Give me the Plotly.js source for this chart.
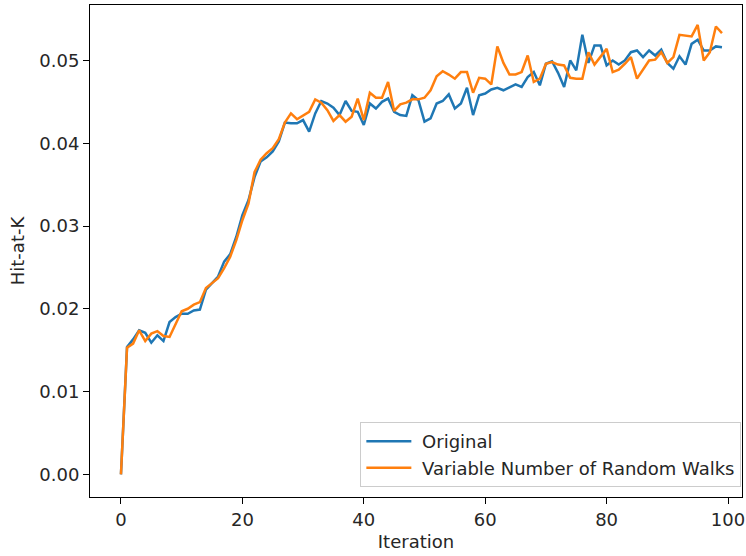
<!DOCTYPE html>
<html>
<head>
<meta charset="utf-8">
<script src="https://cdn.plot.ly/plotly-3.0.1.min.js"></script>
<style>html,body{margin:0;padding:0;background:#fff;}#chart{width:746px;height:556px;}</style>
</head>
<body>
<div id="chart"></div>
<script>
const iterations = Array.from({length: 100}, (_, i) => i);
const original = [
  0.0000, 0.0154, 0.0163, 0.0174, 0.0171, 0.0159, 0.0168, 0.0161, 0.0184, 0.0190,
  0.0194, 0.0194, 0.0198, 0.0199, 0.0223, 0.0231, 0.0239, 0.0257, 0.0266, 0.0287,
  0.0313, 0.0331, 0.0359, 0.0378, 0.0383, 0.0390, 0.0402, 0.0425, 0.0424, 0.0424,
  0.0428, 0.0414, 0.0436, 0.0451, 0.0448, 0.0443, 0.0434, 0.0451, 0.0439, 0.0438,
  0.0422, 0.0448, 0.0442, 0.0450, 0.0454, 0.0438, 0.0434, 0.0433, 0.0458, 0.0452,
  0.0426, 0.0430, 0.0448, 0.0451, 0.0459, 0.0442, 0.0448, 0.0467, 0.0434, 0.0458,
  0.0460, 0.0465, 0.0467, 0.0464, 0.0468, 0.0471, 0.0468, 0.0480, 0.0486, 0.0470,
  0.0496, 0.0499, 0.0485, 0.0468, 0.0500, 0.0488, 0.0531, 0.0497, 0.0518, 0.0518,
  0.0494, 0.0500, 0.0495, 0.0500, 0.0510, 0.0512, 0.0504, 0.0512, 0.0506, 0.0513,
  0.0497, 0.0490, 0.0505, 0.0495, 0.0520, 0.0525, 0.0512, 0.0512, 0.0517, 0.0516
];
const variableWalks = [
  0.0000, 0.0153, 0.0158, 0.0174, 0.0161, 0.0170, 0.0173, 0.0167, 0.0166, 0.0182,
  0.0197, 0.0200, 0.0205, 0.0208, 0.0225, 0.0231, 0.0237, 0.0249, 0.0263, 0.0283,
  0.0307, 0.0327, 0.0365, 0.0380, 0.0388, 0.0394, 0.0405, 0.0425, 0.0436, 0.0429,
  0.0434, 0.0438, 0.0453, 0.0449, 0.0440, 0.0427, 0.0434, 0.0426, 0.0432, 0.0454,
  0.0428, 0.0461, 0.0455, 0.0455, 0.0474, 0.0439, 0.0447, 0.0449, 0.0453, 0.0453,
  0.0455, 0.0464, 0.0481, 0.0487, 0.0483, 0.0478, 0.0486, 0.0486, 0.0461, 0.0479,
  0.0478, 0.0471, 0.0517, 0.0497, 0.0483, 0.0483, 0.0486, 0.0506, 0.0474, 0.0478,
  0.0496, 0.0498, 0.0495, 0.0494, 0.0479, 0.0478, 0.0478, 0.0510, 0.0495, 0.0504,
  0.0514, 0.0486, 0.0489, 0.0496, 0.0504, 0.0478, 0.0489, 0.0500, 0.0501, 0.0510,
  0.0497, 0.0504, 0.0531, 0.0530, 0.0529, 0.0543, 0.0500, 0.0510, 0.0541, 0.0533
];
const xTicks = [0, 20, 40, 60, 80, 100];
const yTicks = [0.00, 0.01, 0.02, 0.03, 0.04, 0.05];
const seriesNames = ["Original", "Variable Number of Random Walks"];

const font = {family: "DejaVu Sans, sans-serif", size: 18, color: "#262626"};
const traces = [
  {x: iterations, y: original, type: "scatter", mode: "lines", name: "\u00a0" + seriesNames[0],
   legendgroup: "a", line: {color: "#1f77b4", width: 2.5}},
  {x: iterations, y: variableWalks, type: "scatter", mode: "lines", name: "\u00a0" + seriesNames[1],
   legendgroup: "b", line: {color: "#ff7f0e", width: 2.5}}
];
const layout = {
  width: 746, height: 556,
  margin: {l: 90, r: 4, t: 5, b: 59},
  paper_bgcolor: "#fff", plot_bgcolor: "#fff",
  font: font,
  showlegend: true,
  legend: {
    x: 0.999, y: 0.02, xanchor: "right", yanchor: "bottom",
    bgcolor: "rgba(255,255,255,0.8)", bordercolor: "#cccccc", borderwidth: 1,
    font: font, traceorder: "grouped", tracegroupgap: 0, itemwidth: 45
  },
  xaxis: {
    range: [-5.1, 102.3], tickvals: xTicks, ticktext: xTicks.map(String),
    showgrid: false, zeroline: false, showline: true, mirror: true,
    linecolor: "#000", linewidth: 1, ticks: "outside", ticklen: 6, tickcolor: "#000",
    title: {text: "Iteration", font: font, standoff: 6}, automargin: false
  },
  yaxis: {
    range: [-0.00274, 0.0567], tickvals: yTicks, ticktext: yTicks.map(v => v.toFixed(2)),
    showgrid: false, zeroline: false, showline: true, mirror: true,
    linecolor: "#000", linewidth: 1, ticks: "outside", ticklen: 6, tickcolor: "#000",
    title: {text: "Hit-at-K", font: font, standoff: 10}, automargin: false
  }
};
Plotly.newPlot("chart", traces, layout, {displayModeBar: false, staticPlot: true});
</script>
</body>
</html>
